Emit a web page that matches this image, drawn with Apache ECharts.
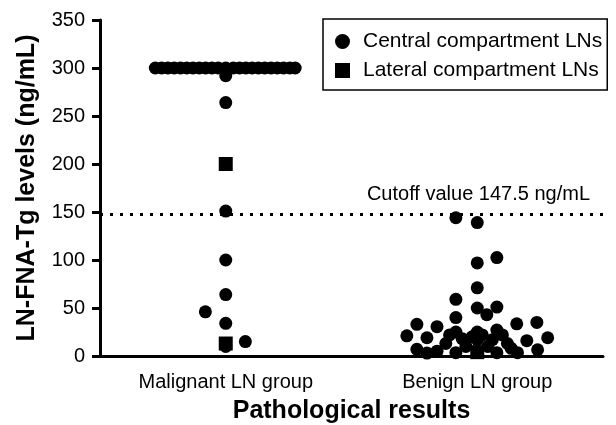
<!DOCTYPE html>
<html>
<head>
<meta charset="utf-8">
<script src="https://cdn.jsdelivr.net/npm/echarts@6/dist/echarts.min.js"></script>
<style>html,body{margin:0;padding:0;background:#fff;}#c{width:616px;height:425px;}</style>
</head>
<body>
<div id="c"></div>
<script>
// Categories and tick values
var categories = ['Malignant LN group', 'Benign LN group'];
var yTicks = [0, 50, 100, 150, 200, 250, 300, 350];
var cutoff = 147.5;

// Each point: [horizontal jitter within the group (category units), value ng/mL]
var malignantCentral = [
  [-0.28, 300], [-0.255, 300], [-0.23, 300], [-0.205, 300], [-0.18, 300], [-0.155, 300],
  [-0.13, 300], [-0.105, 300], [-0.08, 300], [-0.055, 300], [-0.03, 300], [0, 300],
  [0.03, 300], [0.055, 300], [0.08, 300], [0.105, 300], [0.13, 300], [0.155, 300],
  [0.18, 300], [0.205, 300], [0.23, 300], [0.255, 300], [0.276, 300],
  [0, 292], [0, 264], [0, 151], [0, 100], [0, 64], [-0.081, 46], [0, 34], [0, 10], [0.078, 15]
];
var malignantLateral = [[0, 200], [0, 13]];

var benignCentral = [
  [-0.085, 144], [0, 139], [0.078, 102.5], [0, 97], [0, 71], [-0.085, 59], [0, 50],
  [0.078, 51], [0.038, 43], [-0.085, 40], [-0.24, 33], [-0.16, 30.5], [0.157, 33.5],
  [0.237, 35], [-0.28, 21], [-0.2, 19], [-0.085, 25], [-0.11, 22], [0, 25], [-0.02, 20],
  [0.02, 22], [0.078, 27], [0.1, 22], [0.197, 16], [0.28, 19], [-0.24, 7], [-0.16, 5],
  [-0.125, 13], [-0.085, 3.5], [-0.045, 10], [0.042, 10], [0.078, 3.5], [0.12, 13],
  [0.16, 3.5], [0.24, 6.5], [0, 17], [-0.06, 18], [0.06, 17], [0.135, 8], [-0.2, 3]
];
var benignLateral = [[0, 4]];

function place(groupIndex, pts) {
  return pts.map(function (p) { return [groupIndex + p[0], p[1]]; });
}

var FONT = 'Liberation Sans, Arial, Helvetica, sans-serif';
var chart = echarts.init(document.getElementById('c'), null, {renderer: 'canvas'});
chart.setOption({
  animation: false,
  backgroundColor: '#fff',
  textStyle: {fontFamily: FONT, color: '#000'},
  grid: {left: 100, right: 13, top: 20, bottom: 69, containLabel: false, outerBoundsMode: 'none'},
  legend: {
    orient: 'vertical',
    left: 323, top: 19,
    padding: [12, 5, 9, 12],
    itemGap: 8,
    itemWidth: 15, itemHeight: 15,
    borderColor: '#000', borderWidth: 1.5,
    textStyle: {fontSize: 21, color: '#000', fontFamily: FONT, padding: [0, 0, 0, 8]},
    data: [
      {name: 'Central compartment LNs', icon: 'circle'},
      {name: 'Lateral compartment LNs', icon: 'rect'}
    ]
  },
  xAxis: [
    {
      type: 'category', data: categories, boundaryGap: true,
      name: 'Pathological results', nameLocation: 'middle', nameGap: 43,
      nameTextStyle: {fontSize: 25, fontWeight: 'bold', color: '#000', fontFamily: FONT},
      axisLine: {lineStyle: {color: '#000', width: 3}},
      axisTick: {alignWithLabel: true, length: 8, lineStyle: {color: '#000', width: 3}},
      axisLabel: {fontSize: 20, color: '#000', margin: 16, fontFamily: FONT},
      splitLine: {show: false}
    },
    {
      type: 'value', min: -0.5, max: 1.5, show: false, position: 'bottom'
    }
  ],
  yAxis: {
    type: 'value', min: 0, max: 350, interval: 50,
    name: 'LN-FNA-Tg levels (ng/mL)', nameLocation: 'middle', nameGap: 60,
    nameTextStyle: {fontSize: 25, fontWeight: 'bold', color: '#000', fontFamily: FONT},
    axisLine: {show: true, onZero: false, lineStyle: {color: '#000', width: 3}},
    axisTick: {show: true, length: 8, lineStyle: {color: '#000', width: 3}},
    axisLabel: {fontSize: 20, color: '#000', margin: 15, fontFamily: FONT,
      formatter: function (v) { return yTicks.indexOf(v) >= 0 ? String(v) : ''; }},
    splitLine: {show: false}
  },
  series: [
    {
      name: 'Central compartment LNs', type: 'scatter', xAxisIndex: 1,
      symbol: 'circle', symbolSize: 13, itemStyle: {color: '#000', opacity: 1},
      data: place(0, malignantCentral).concat(place(1, benignCentral)),
      markLine: {
        silent: true, symbol: 'none',
        lineStyle: {color: '#000', width: 3, type: [3, 7]},
        label: {show: true, position: 'insideEndTop', formatter: 'Cutoff value 147.5 ng/mL',
          fontSize: 20, color: '#000', fontFamily: FONT, distance: [13, 10]},
        data: [{yAxis: cutoff}]
      }
    },
    {
      name: 'Lateral compartment LNs', type: 'scatter', xAxisIndex: 1,
      symbol: 'rect', symbolSize: 14, itemStyle: {color: '#000', opacity: 1},
      data: place(0, malignantLateral).concat(place(1, benignLateral))
    }
  ]
});
</script>
</body>
</html>
